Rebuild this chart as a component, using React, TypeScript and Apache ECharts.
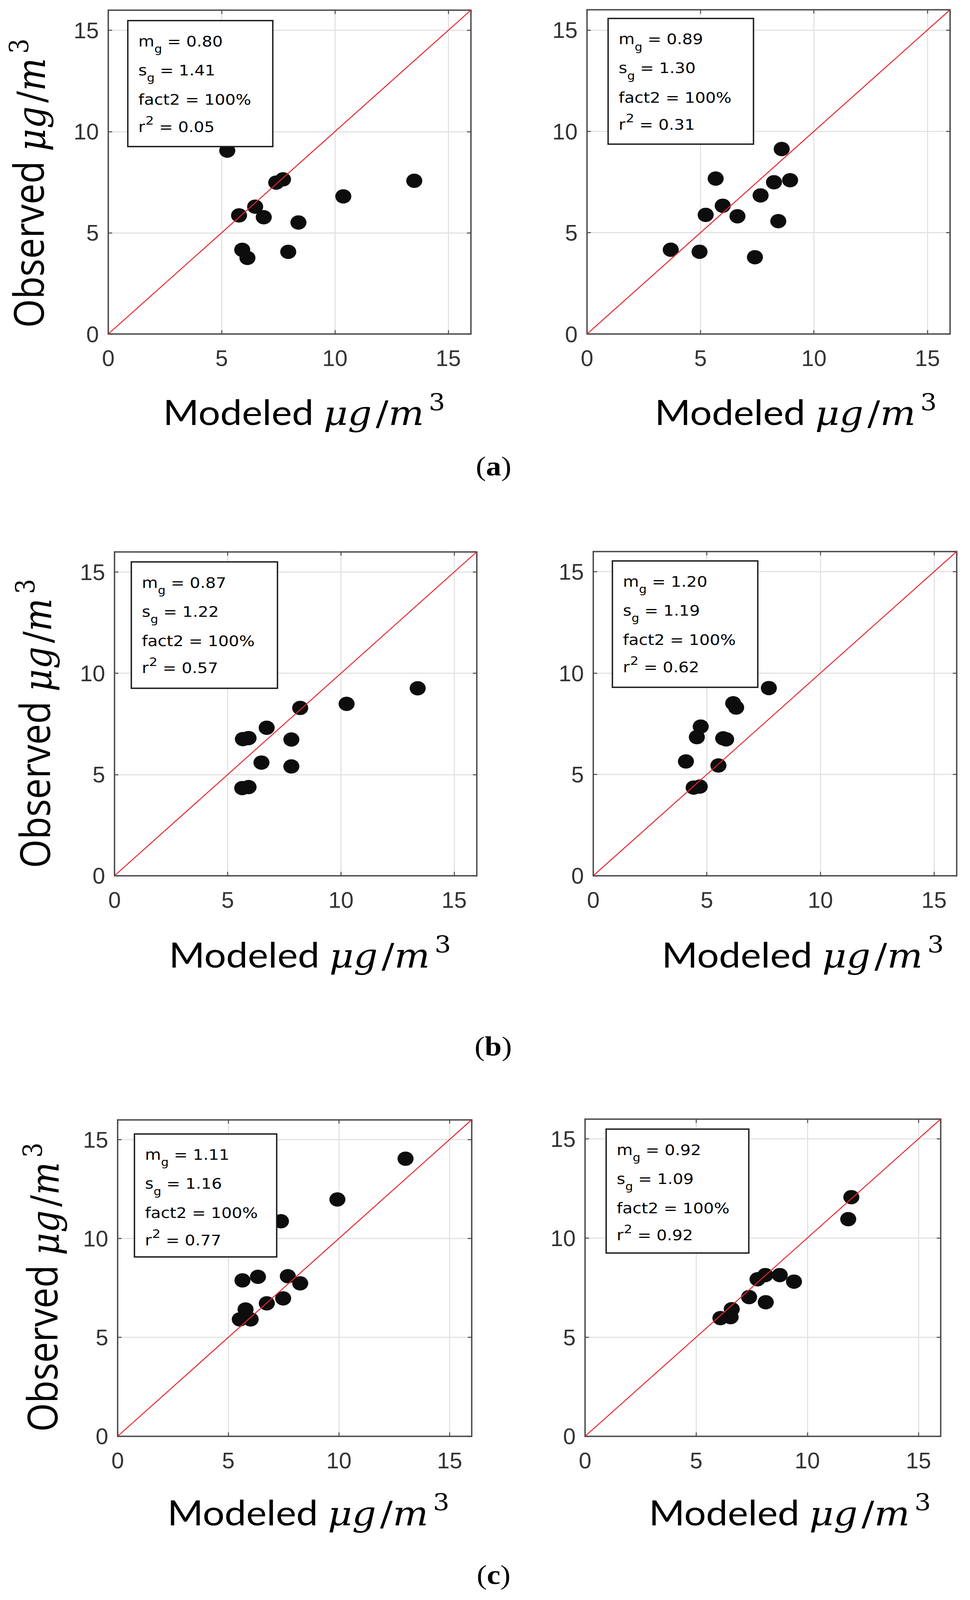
import React, { useEffect, useRef, useState } from "react";
import * as echarts from "echarts";

// ---------------- data ----------------
// (a) left / right
const modeledA1 = [5.25, 7.41, 7.71, 13.5, 10.37, 6.48, 5.77, 6.86, 8.39, 5.91, 6.14, 7.94];
const observedA1 = [9.06, 7.48, 7.64, 7.57, 6.8, 6.29, 5.86, 5.77, 5.51, 4.16, 3.76, 4.06];
const modeledA2 = [8.58, 5.67, 8.24, 8.95, 7.65, 5.98, 5.23, 6.63, 8.43, 3.69, 4.96, 7.4];
const observedA2 = [9.13, 7.67, 7.49, 7.59, 6.84, 6.33, 5.88, 5.81, 5.57, 4.16, 4.06, 3.79];
// (b) left / right
const modeledB1 = [13.39, 10.25, 8.2, 6.72, 5.67, 5.92, 7.81, 6.49, 7.81, 5.64, 5.92];
const observedB1 = [9.26, 8.49, 8.29, 7.31, 6.75, 6.8, 6.73, 5.59, 5.4, 4.33, 4.38];
const modeledB2 = [7.73, 6.16, 6.29, 4.73, 4.56, 5.72, 5.85, 4.08, 5.51, 4.42, 4.69];
const observedB2 = [9.26, 8.51, 8.3, 7.36, 6.84, 6.78, 6.73, 5.64, 5.44, 4.35, 4.4];
// (c) left / right
const modeledC1 = [13.01, 9.93, 7.38, 5.64, 6.34, 7.69, 8.25, 7.48, 6.74, 5.78, 5.52, 6.01];
const observedC1 = [14.03, 11.97, 10.87, 7.88, 8.06, 8.09, 7.73, 6.97, 6.72, 6.41, 5.91, 5.91];
const modeledC2 = [11.98, 11.84, 7.76, 8.11, 8.76, 9.4, 7.38, 8.13, 6.6, 6.09, 6.55];
const observedC2 = [12.06, 10.95, 7.92, 8.13, 8.13, 7.8, 7.02, 6.76, 6.41, 5.96, 6.01];

// statistics shown in the text boxes
const mgValues = ["0.80", "0.89", "0.87", "1.20", "1.11", "0.92"];
const sgValues = ["1.41", "1.30", "1.22", "1.19", "1.16", "1.09"];
const fact2Values = ["100%", "100%", "100%", "100%", "100%", "100%"];
const r2Values = ["0.05", "0.31", "0.57", "0.62", "0.77", "0.92"];

// axes
const axisMin = 0;
const axisMax = 16;
const tickInterval = 5;
const oneToOne = [[0, 0], [16, 16]];

const rowLetters = ["a", "b", "c"];
const xName = "Modeled";
const yName = "Observed";

// ---------------- layout (pixels of the 2482 x 4584 figure) ----------------
const FIG_W = 2482;
const FIG_H = 4584;

const modeledSets = [modeledA1, modeledA2, modeledB1, modeledB2, modeledC1, modeledC2];
const observedSets = [observedA1, observedA2, observedB1, observedB2, observedC1, observedC2];

const gridRects = [
  { left: 277, top: 29, width: 928, height: 928 },
  { left: 1502, top: 28, width: 929, height: 929 },
  { left: 293, top: 1581, width: 927, height: 928 },
  { left: 1518, top: 1580, width: 930, height: 929 },
  { left: 301, top: 3208, width: 906, height: 907 },
  { left: 1497, top: 3206, width: 910, height: 909 },
];
const boxRects = [
  [50, 30, 371, 361],
  [54, 25, 372, 360],
  [43, 29, 374, 362],
  [49, 27, 372, 362],
  [43, 41, 364, 352],
  [54, 29, 365, 355],
];
const boxLineTops = [18, 101, 185, 263];
const xNamePos = [
  [778, 1218],
  [2036, 1218],
  [793, 2772],
  [2054, 2772],
  [789, 4370],
  [2021, 4370],
];
const yNamePos = [
  [14, 525],
  [30, 2073],
  [49, 3688],
];
const letterPos = [
  [1263, 1336],
  [1262, 2997],
  [1263, 4512],
];

const FRAME = "#4a4a4a";
const GRIDC = "#e3e3e3";
const TICKTXT = "#333333";

function buildOption(S: number) {
  const grid: any[] = [];
  const xAxis: any[] = [];
  const yAxis: any[] = [];
  const series: any[] = [];
  const elements: any[] = [];
  const tickFont = Math.round(61 * (0.5 + 0.5 * S));

  gridRects.forEach((g, i) => {
    grid.push({
      left: g.left,
      top: g.top * S,
      width: g.width,
      height: g.height * S,
      containLabel: false,
      outerBoundsMode: "none",
      show: false,
    });
    const common = {
      type: "value",
      gridIndex: i,
      min: axisMin,
      max: axisMax,
      interval: tickInterval,
      axisLine: { show: true, onZero: false, lineStyle: { color: FRAME, width: 3.5 } },
      axisTick: { show: true, inside: true, length: 10, lineStyle: { color: FRAME, width: 2.5 } },
    };
    xAxis.push({
      ...common,
      position: "bottom",
      axisLabel: {
        show: true,
        margin: 69 * S - tickFont / 2,
        fontSize: tickFont,
        fontFamily: "Liberation Sans, Arial, sans-serif",
        color: TICKTXT,
        showMaxLabel: false,
      },
      splitLine: { show: true, lineStyle: { color: GRIDC, width: 3 } },
    });
    xAxis.push({ ...common, position: "top", axisLabel: { show: false }, splitLine: { show: false } });
    yAxis.push({
      ...common,
      position: "left",
      axisLabel: {
        show: true,
        margin: 24,
        fontSize: tickFont,
        fontFamily: "Liberation Sans, Arial, sans-serif",
        color: TICKTXT,
        showMaxLabel: false,
      },
      splitLine: { show: true, lineStyle: { color: GRIDC, width: 3 } },
    });
    yAxis.push({ ...common, position: "right", axisLabel: { show: false }, splitLine: { show: false } });

    const mod = modeledSets[i];
    const obs = observedSets[i];
    series.push({
      type: "scatter",
      xAxisIndex: 2 * i,
      yAxisIndex: 2 * i,
      symbol: "circle",
      symbolSize: [41, 41 * S],
      itemStyle: { color: "#0d0d0d", opacity: 1 },
      data: mod.map((m, k) => [m, obs[k]]),
      z: 2,
    });
    series.push({
      type: "line",
      xAxisIndex: 2 * i,
      yAxisIndex: 2 * i,
      data: oneToOne,
      symbol: "none",
      lineStyle: { color: "#e8262e", width: 2.5 },
      z: 3,
    });

    const [bx, by, bw, bh] = boxRects[i];
    const left = g.left + bx;
    const top = (g.top + by) * S;
    elements.push({
      type: "rect",
      shape: { x: left, y: top, width: bw, height: bh * S },
      style: { fill: "#ffffff", stroke: "#1a1a1a", lineWidth: 3.5 },
      z: 100,
    });
    const statRich = {
      n: { fontFamily: "DejaVu Sans", fontSize: 42, fill: "#000", verticalAlign: "top", padding: [20, 0, 0, 0] },
      sub: { fontFamily: "DejaVu Sans", fontSize: 31, fill: "#000", verticalAlign: "top", padding: [48, 0, 0, 0] },
      sup: { fontFamily: "DejaVu Sans", fontSize: 34, fill: "#000", verticalAlign: "top", padding: [6, 0, 0, 1] },
    };
    const lines = [
      `{n|m}{sub|g}{n| = ${mgValues[i]}}`,
      `{n|s}{sub|g}{n| = ${sgValues[i]}}`,
      `{n|fact2 = ${fact2Values[i]}}`,
      `{n|r}{sup|2}{n| = ${r2Values[i]}}`,
    ];
    lines.forEach((t, li) => {
      elements.push({
        type: "text",
        x: left + 27,
        y: top + boxLineTops[li] * S,
        scaleY: S,
        z: 101,
        style: { text: t, rich: statRich, align: "left", verticalAlign: "top", fill: "#000" },
      });
    });

    const [nx, nbase] = xNamePos[i];
    elements.push({
      type: "text",
      x: nx,
      y: (nbase - 98) * S,
      scaleY: S,
      z: 101,
      style: {
        text: `{t|${xName} }{mi|μg}{sl|/}{mi|m}{sup|3}`,
        align: "center",
        verticalAlign: "top",
        fill: "#000",
        rich: {
          t: { fontFamily: "Lato", fontSize: 99, fill: "#000", verticalAlign: "top", padding: [10, 0, 0, 0] },
          mi: { fontFamily: "DejaVu Serif", fontStyle: "italic", fontSize: 96, fill: "#000", verticalAlign: "top", padding: [16, 0, 0, 0] },
          sl: { fontFamily: "DejaVu Serif", fontSize: 96, fill: "#000", verticalAlign: "top", padding: [16, 0, 0, 10] },
          sup: { fontFamily: "DejaVu Serif", fontSize: 66, fill: "#000", verticalAlign: "top", padding: [0, 0, 0, 12] },
        },
      },
    });
  });

  yNamePos.forEach(([x, y]) => {
    elements.push({
      type: "text",
      x,
      y: y * S,
      rotation: Math.PI / 2,
      scaleX: S,
      z: 101,
      style: {
        text: `{t|${yName} }{mi|μg}{sl|/}{mi|m}{sup|3}`,
        align: "center",
        verticalAlign: "top",
        fill: "#000",
        rich: {
          t: { fontFamily: "Open Sans", fontSize: 106, fill: "#000", verticalAlign: "top", padding: [4, 0, 0, 0] },
          mi: { fontFamily: "DejaVu Serif", fontStyle: "italic", fontSize: 100, fill: "#000", verticalAlign: "top", padding: [16, 0, 0, 0] },
          sl: { fontFamily: "DejaVu Serif", fontSize: 100, fill: "#000", verticalAlign: "top", padding: [16, 0, 0, 10] },
          sup: { fontFamily: "DejaVu Serif", fontSize: 68, fill: "#000", verticalAlign: "top", padding: [0, 0, 0, 12] },
        },
      },
    });
  });

  letterPos.forEach(([x, y], i) => {
    elements.push({
      type: "text",
      x,
      y: y * S,
      scaleY: S,
      z: 101,
      style: {
        text: `{p|(}{b|${rowLetters[i]}}{p|)}`,
        align: "center",
        verticalAlign: "middle",
        fill: "#000",
        rich: {
          p: { fontFamily: "Liberation Serif", fontSize: 78, fill: "#000" },
          b: { fontFamily: "Liberation Serif", fontSize: 78, fontWeight: "bold", fill: "#000" },
        },
      },
    });
  });

  return {
    animation: false,
    backgroundColor: "#ffffff",
    grid,
    xAxis,
    yAxis,
    series,
    graphic: { elements },
  };
}

function fitScale() {
  const h = typeof window !== "undefined" && window.innerHeight ? window.innerHeight : FIG_H;
  return Math.min(1, h / FIG_H);
}

export default function App() {
  const ref = useRef<HTMLDivElement>(null);
  const [S] = useState(fitScale);
  useEffect(() => {
    if (!ref.current) return;
    const chart = echarts.init(ref.current, undefined, { renderer: "svg" });
    chart.setOption(buildOption(S) as any);
    return () => chart.dispose();
  }, [S]);
  return (
    <div
      ref={ref}
      style={{
        position: "absolute",
        left: 0,
        top: 0,
        width: FIG_W,
        height: Math.floor(FIG_H * S),
        background: "#fff",
      }}
    />
  );
}
